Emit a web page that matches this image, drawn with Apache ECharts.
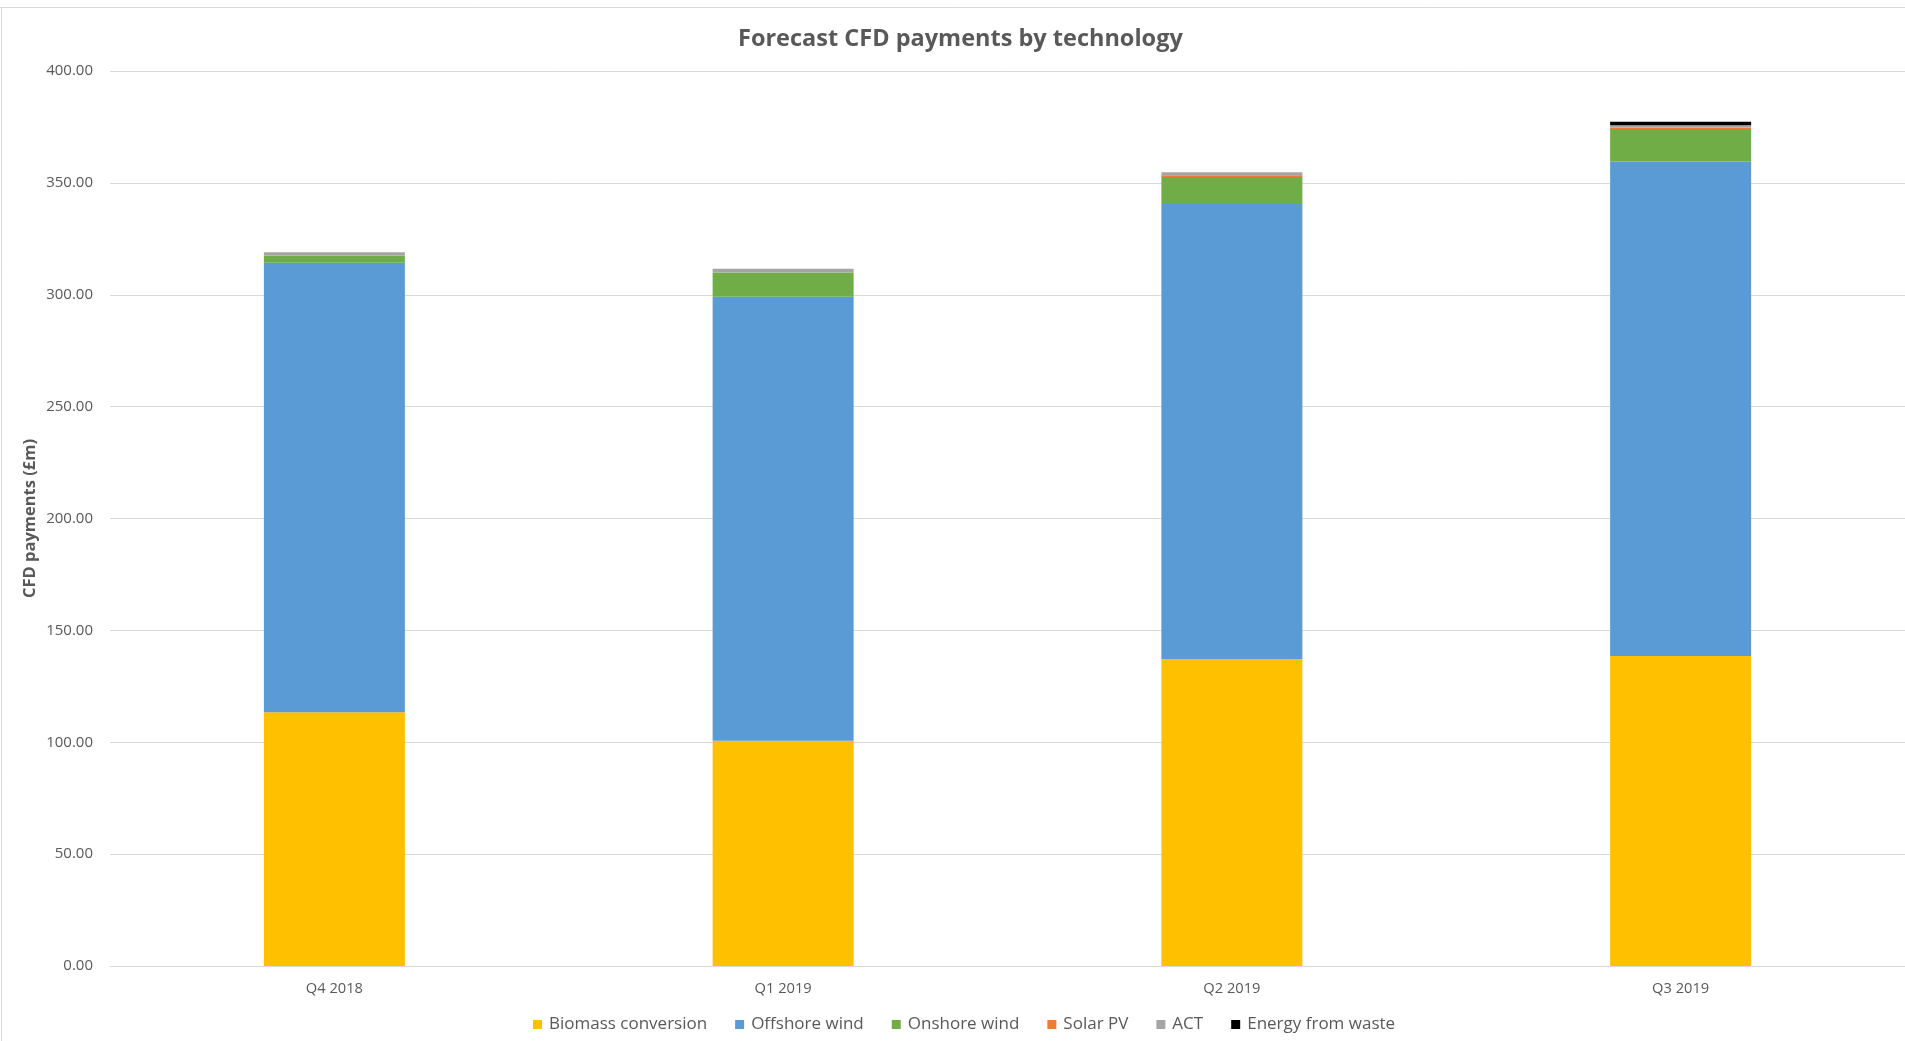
<!DOCTYPE html>
<html>
<head>
<meta charset="utf-8">
<script src="https://cdn.jsdelivr.net/npm/echarts@6/dist/echarts.min.js"></script>
<style>
html,body{margin:0;padding:0;background:#fff;}
#chart{width:1905px;height:1041px;}
</style>
</head>
<body>
<div id="chart"></div>
<script>
const categories = ['Q4 2018', 'Q1 2019', 'Q2 2019', 'Q3 2019'];
const biomass = [113.4, 100.7, 137.2, 138.5];
const offshore = [200.9, 198.4, 203.8, 221.1];
const onshore = [3.2, 10.9, 11.6, 14.5];
const solarPV = [0, 0, 0.8, 0.6];
const act = [1.5, 1.6, 1.3, 1.0];
const energyFromWaste = [0, 0, 0, 1.6];
const yTicks = { min: 0, max: 400, interval: 50 };

const font = '"Open Sans", "Liberation Sans", sans-serif';
const textColor = '#595959';

function bar(name, data, color) {
  return { name, type: 'bar', stack: 'total', data, barWidth: 141,
    itemStyle: { color }, emphasis: { disabled: true } };
}

const chart = echarts.init(document.getElementById('chart'));
chart.setOption({
  animation: false,
  textStyle: { fontFamily: font },
  title: {
    text: 'Forecast CFD payments by technology',
    left: 733, top: 22,
    textStyle: { fontFamily: font, fontSize: 23.5, fontWeight: 'bold', color: textColor }
  },
  legend: {
    bottom: 3, left: 528,
    icon: 'rect', itemWidth: 9, itemHeight: 9, itemGap: 28,
    textStyle: { fontFamily: font, fontSize: 17, color: textColor, padding: [0, 0, 0, 2] },
    data: ['Biomass conversion', 'Offshore wind', 'Onshore wind', 'Solar PV', 'ACT', 'Energy from waste']
  },
  grid: { left: 110, right: 0, top: 71, bottom: 75, containLabel: false },
  xAxis: {
    type: 'category', data: categories,
    axisLine: { lineStyle: { color: '#d9d9d9', width: 1 } },
    axisTick: { show: false },
    axisLabel: { color: textColor, fontSize: 14.7, fontFamily: font, margin: 15 }
  },
  yAxis: {
    type: 'value', min: yTicks.min, max: yTicks.max, interval: yTicks.interval,
    name: 'CFD payments (£m)', nameLocation: 'middle', nameGap: 71, nameMoveOverlap: false,
    nameTextStyle: { color: textColor, fontSize: 16.5, fontWeight: 'bold', fontFamily: font },
    axisLine: { show: false }, axisTick: { show: false },
    axisLabel: { color: textColor, fontSize: 15, fontFamily: font, margin: 17,
      formatter: v => v.toFixed(2) },
    splitLine: { lineStyle: { color: '#d9d9d9', width: 1 } }
  },
  graphic: [
    { type: 'line', shape: { x1: 0, y1: 7.5, x2: 1905, y2: 7.5 }, style: { stroke: '#d9d9d9', lineWidth: 1 } },
    { type: 'line', shape: { x1: 1.5, y1: 7, x2: 1.5, y2: 1041 }, style: { stroke: '#d9d9d9', lineWidth: 1 } }
  ],
  series: [
    bar('Biomass conversion', biomass, '#FFC000'),
    bar('Offshore wind', offshore, '#5B9BD5'),
    bar('Onshore wind', onshore, '#70AD47'),
    bar('Solar PV', solarPV, '#ED7D31'),
    bar('ACT', act, '#A5A5A5'),
    bar('Energy from waste', energyFromWaste, '#000000')
  ]
});
</script>
</body>
</html>
